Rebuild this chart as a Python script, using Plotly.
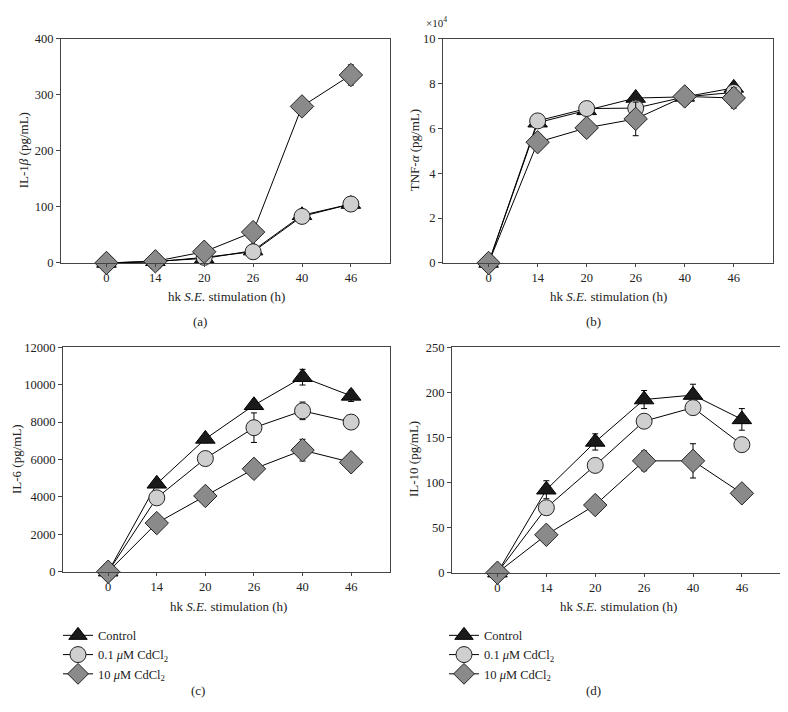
import plotly.graph_objects as go

hours = ["0", "14", "20", "26", "40", "46"]
series_names = ["Control", "0.1 <i>μ</i>M CdCl<sub>2</sub>", "10 <i>μ</i>M CdCl<sub>2</sub>"]

# (a) IL-1beta (pg/mL)
il1b_ctrl = [0, 3, 8, 22, 85, 105]
il1b_low = [0, 2, 10, 20, 83, 105]
il1b_high = [0, 3, 20, 55, 279, 335]
il1b_ctrl_err = [2, 2, 2, 3, 5, 5]
il1b_low_err = [1, 1, 2, 3, 4, 4]
il1b_high_err = [1, 1, 2, 3, 10, 18]

# (b) TNF-alpha (x10^4 pg/mL)
tnf_ctrl = [0, 6.25, 6.8, 7.35, 7.4, 7.8]
tnf_low = [0, 6.33, 6.88, 6.9, 7.4, 7.6]
tnf_high = [0, 5.38, 6.02, 6.42, 7.42, 7.35]
tnf_ctrl_err = [0.05, 0.1, 0.1, 0.1, 0.2, 0.2]
tnf_low_err = [0.05, 0.1, 0.1, 0.3, 0.1, 0.1]
tnf_high_err = [0.05, 0.1, 0.1, 0.75, 0.15, 0.45]

# (c) IL-6 (pg/mL)
il6_ctrl = [0, 4700, 7100, 8900, 10400, 9400]
il6_low = [0, 3950, 6050, 7700, 8600, 8000]
il6_high = [0, 2600, 4050, 5500, 6500, 5850]
il6_ctrl_err = [50, 200, 200, 200, 420, 300]
il6_low_err = [50, 350, 200, 790, 470, 300]
il6_high_err = [50, 150, 200, 200, 580, 200]

# (d) IL-10 (pg/mL)
il10_ctrl = [0, 92, 145, 192, 197, 170]
il10_low = [0, 72, 119, 168, 183, 142]
il10_high = [0, 42, 75, 124, 124, 88]
il10_ctrl_err = [1, 10, 9, 10, 12, 12]
il10_low_err = [1, 4, 4, 4, 5, 5]
il10_high_err = [1, 3, 3, 11, 19, 3]

FONT = "Liberation Serif"
styles = [
    dict(symbol="triangle-up", size=17, color="#1a1a1a", line=dict(color="#000000", width=1)),
    dict(symbol="circle", size=16, color="#cfcfcf", line=dict(color="#222222", width=1)),
    dict(symbol="diamond", size=18, color="#8a8a8a", line=dict(color="#222222", width=1)),
]

fig = go.Figure()

panels = [
    ("x", "y", [il1b_ctrl, il1b_low, il1b_high], [il1b_ctrl_err, il1b_low_err, il1b_high_err], None),
    ("x2", "y2", [tnf_ctrl, tnf_low, tnf_high], [tnf_ctrl_err, tnf_low_err, tnf_high_err], None),
    ("x3", "y3", [il6_ctrl, il6_low, il6_high], [il6_ctrl_err, il6_low_err, il6_high_err], "legend"),
    ("x4", "y4", [il10_ctrl, il10_low, il10_high], [il10_ctrl_err, il10_low_err, il10_high_err], "legend2"),
]

for xa, ya, vals, errs, leg in panels:
    for i in range(3):
        kw = dict(
            x=hours, y=vals[i], xaxis=xa, yaxis=ya,
            mode="lines+markers",
            name=series_names[i],
            line=dict(color="#000000", width=1),
            marker=styles[i],
            error_y=dict(type="data", array=errs[i], visible=True,
                         color="#000000", thickness=1, width=3),
            cliponaxis=False,
            showlegend=leg is not None,
        )
        if leg is not None:
            kw["legend"] = leg
        fig.add_trace(go.Scatter(**kw))

# page body has an 8px margin; figure is sized so the page fits the window
OFF = 8
W, H = 780, 704


def fx(x):
    return (x - OFF) / W


def fy(y):
    return 1 - (y - OFF) / H


def px(x0, x1):
    return [fx(x0), fx(x1)]


def py(top, bottom):
    return [fy(bottom), fy(top)]


xcommon = dict(type="category", categoryorder="array", categoryarray=hours,
               range=[-0.93, 5.8], showline=True, mirror=True, linecolor="#444444",
               linewidth=1, ticks="outside", ticklen=3, tickcolor="#444444",
               showgrid=False, zeroline=False,
               tickfont=dict(family=FONT, size=12.5, color="#222222"))
ycommon = dict(showline=True, mirror=True, linecolor="#444444", linewidth=1,
               ticks="outside", ticklen=4, tickcolor="#444444", showgrid=False,
               zeroline=False, tickfont=dict(family=FONT, size=12.5, color="#222222"))

legfont = dict(family=FONT, size=12.5, color="#222222")
fig.update_layout(
    width=W, height=H,
    margin=dict(l=0, r=0, t=0, b=0),
    paper_bgcolor="white", plot_bgcolor="white",
    font=dict(family=FONT, size=12, color="#222222"),
    xaxis=dict(domain=px(61, 390), anchor="y", **xcommon),
    yaxis=dict(domain=py(32, 261), anchor="x", range=[0, 400], dtick=100, **ycommon),
    xaxis2=dict(domain=px(443, 773), anchor="y2", **xcommon),
    yaxis2=dict(domain=py(32, 261), anchor="x2", range=[0, 10], dtick=2, **ycommon),
    xaxis3=dict(domain=px(63, 390), anchor="y3", **xcommon),
    yaxis3=dict(domain=py(347, 576), anchor="x3", range=[0, 12000], dtick=2000,
                tickformat="d", **ycommon),
    xaxis4=dict(domain=px(452, 781), anchor="y4", **xcommon),
    yaxis4=dict(domain=py(347, 577), anchor="x4", range=[0, 250], dtick=50, **ycommon),
    legend=dict(x=fx(58), y=fy(626), xanchor="left", yanchor="top",
                bgcolor="rgba(0,0,0,0)", font=legfont, itemwidth=30, tracegroupgap=0),
    legend2=dict(x=fx(444), y=fy(626), xanchor="left", yanchor="top",
                 bgcolor="rgba(0,0,0,0)", font=legfont, itemwidth=30, tracegroupgap=0),
)

ann = []


def text(x, y, s, angle=0, size=12.5):
    ann.append(dict(x=fx(x), y=fy(y), xref="paper", yref="paper", text=s,
                    showarrow=False, textangle=angle, xanchor="center", yanchor="middle",
                    font=dict(family=FONT, size=size, color="#222222")))


xtitle = "hk <i>S.E.</i> stimulation (h)"
text(226, 295, xtitle, size=13)
text(608, 295, xtitle, size=13)
text(228, 612, xtitle, size=13)
text(618, 612, xtitle, size=13)
text(200, 321, "(a)", size=13)
text(593, 321, "(b)", size=13)
text(198, 697, "(c)", size=13)
text(593, 697, "(d)", size=13)
text(23, 146, "IL-1<i>β</i> (pg/mL)", angle=-90, size=13)
text(414, 146, "TNF-<i>α</i> (pg/mL)", angle=-90, size=13)
text(17, 461, "IL-6 (pg/mL)", angle=-90, size=13)
text(414, 461, "IL-10 (pg/mL)", angle=-90, size=13)
text(436, 15, "×10<sup>4</sup>", size=11)
fig.update_layout(annotations=ann)

fig.write_html("out.html")
